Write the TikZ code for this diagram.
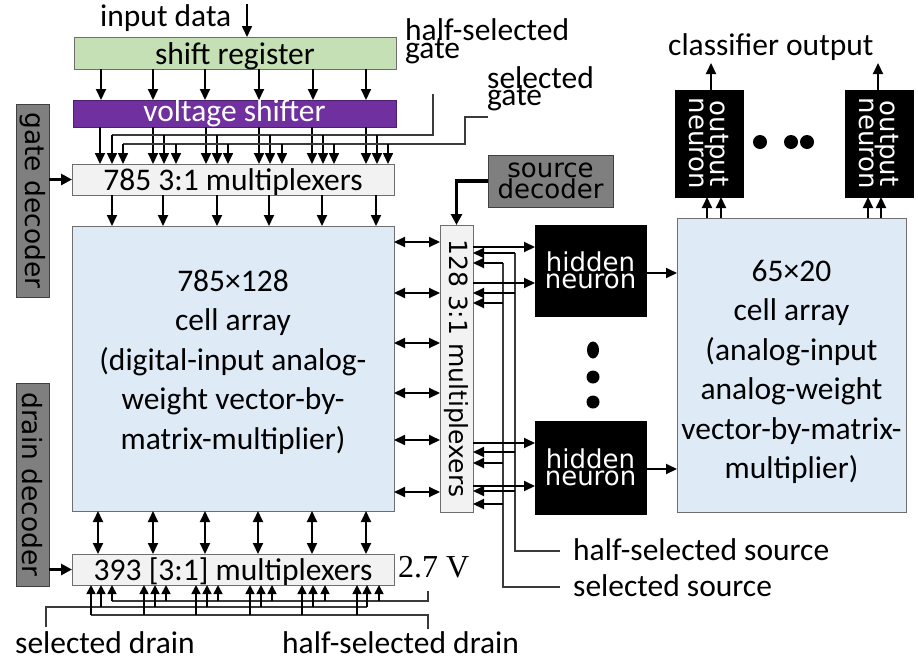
\documentclass[tikz,border=0pt]{standalone}
\usepackage{fontspec}
\setmainfont{Carlito}
\newfontfamily\dvsans{DejaVu Sans}
\newfontfamily\serifv{Liberation Serif}
\usetikzlibrary{arrows.meta}

\definecolor{regGreen}{HTML}{C5E0B4}
\definecolor{shiftPurple}{HTML}{7030A0}
\definecolor{purpleEdge}{HTML}{4B2070}
\definecolor{muxGray}{HTML}{F2F2F2}
\definecolor{cellBlue}{HTML}{DEEBF7}
\definecolor{decGray}{HTML}{7F7F7F}
\definecolor{edgeGray}{HTML}{6E6E6E}
\definecolor{wireGray}{HTML}{3A3A3A}

\newcommand\mainsz{\fontsize{31.5}{39.5}\selectfont}
\newcommand\tightdv{\dvsans\fontsize{26}{17.5}\selectfont}

\tikzset{
  blk/.style={draw=edgeGray, line width=1pt, inner sep=0pt, outer sep=0pt},
  boxtext/.style={font=\mainsz, text height=25pt, text depth=3pt},
  tip/.style={-{Triangle[length=11pt,width=10pt]}, line width=2pt},
  smalltip/.style={-{Triangle[length=9pt,width=9pt]}, line width=1.6pt},
  tiptwo/.style={{Triangle[length=11pt,width=10pt]}-{Triangle[length=11pt,width=10pt]}, line width=2pt},
  fat/.style={-{Triangle[length=11pt,width=11pt]}, line width=3.5pt},
  wire/.style={draw=wireGray, line width=1.2pt},
  lbl/.style={inner sep=0pt, font=\mainsz},
  neuron/.style={draw=black, fill=black, inner sep=0pt, outer sep=0pt},
  dec/.style={draw=black!75, fill=decGray, line width=1pt, inner sep=0pt, outer sep=0pt},
}

\begin{document}
\begin{tikzpicture}[x=1pt,y=-1pt]
\useasboundingbox (0,0) rectangle (918,662);

% ---------- input stage ----------
\node[blk, fill=regGreen, minimum width=322pt, minimum height=32pt, boxtext] (sr) at (235,53) {shift register};
\node[blk, draw=purpleEdge, fill=shiftPurple, text=white, minimum width=323pt, minimum height=27pt,
      font=\mainsz, text height=21pt, text depth=5pt] (vs) at (234.5,113.5) {voltage shifter};
\node[blk, fill=muxGray, minimum width=322pt, minimum height=31pt, boxtext] (gm) at (233,179.5) {785 3:1 multiplexers};

% ---------- main cell array ----------
\node[blk, fill=cellBlue, minimum width=322pt, minimum height=285pt] (ca) at (233,368.5) {};
\node[lbl, align=center] (caText) at (233,362)
  {785×128\\cell array\\(digital-input analog-\\weight vector-by-\\matrix-multiplier)};
\node[blk, fill=muxGray, minimum width=322pt, minimum height=31pt, boxtext] (dm) at (233,569.5) {393 [3:1] multiplexers};

% ---------- decoders ----------
\node[dec, minimum width=33pt, minimum height=193pt] (gd) at (32.5,200.5) {};
\node[rotate=-90, font=\dvsans\fontsize{26.5}{26.5}\selectfont, inner sep=0pt] (gdText) at (gd.center) {gate decoder};
\node[dec, minimum width=33pt, minimum height=203pt] (dd) at (32.5,484.5) {};
\node[rotate=-90, font=\dvsans\fontsize{26.5}{26.5}\selectfont, inner sep=0pt] (ddText) at (dd.center) {drain decoder};
\node[dec, minimum width=125pt, minimum height=52pt, font=\tightdv, align=center] (sd) at (550.5,181) {source\\decoder};

% ---------- source multiplexers ----------
\node[blk, fill=muxGray, minimum width=33pt, minimum height=287pt] (sm) at (456.5,368.5) {};
\node[rotate=-90, font=\dvsans\fontsize{25}{25}\selectfont, inner sep=0pt] (smText) at (sm.center) {128 3:1 multiplexers};

% ---------- neurons ----------
\node[neuron, minimum width=111pt, minimum height=91pt, text=white, font=\tightdv, align=center] (hn1) at (590.5,270.5) {hidden\\neuron};
\node[neuron, minimum width=111pt, minimum height=93pt, text=white, font=\tightdv, align=center] (hn2) at (590.5,467.5) {hidden\\neuron};

\node[blk, fill=cellBlue, minimum width=229pt, minimum height=294pt] (ra) at (791.5,365) {};
\node[lbl, align=center] (raText) at (791.5,372)
  {65×20\\cell array\\(analog-input\\analog-weight\\vector-by-matrix-\\multiplier)};

\node[neuron, minimum width=68pt, minimum height=107pt] (on1) at (709,143.5) {};
\node[rotate=-90, text=white, font=\tightdv, align=center, inner sep=0pt] (on1Text) at (on1.center) {output\\neuron};
\node[neuron, minimum width=68pt, minimum height=107pt] (on2) at (879,143.5) {};
\node[rotate=-90, text=white, font=\tightdv, align=center, inner sep=0pt] (on2Text) at (on2.center) {output\\neuron};

% ---------- dots ----------
\fill (593,350) ellipse [x radius=6pt, y radius=8.5pt];
\fill (593,377) circle [radius=6.5pt];
\fill (593,402) circle [radius=6.5pt];
\fill (760,142) circle [radius=7pt];
\fill (791,142) circle [radius=7pt];
\fill (807,142) circle [radius=7pt];

% ---------- labels ----------
\node[lbl, anchor=base west] (tIn) at (100,26) {input data};
\node[lbl, anchor=base west] (tHg1) at (405,40) {half-selected};
\node[lbl, anchor=base west] (tHg2) at (405,58) {gate};
\node[lbl, anchor=base west] (tSg1) at (487,88) {selected};
\node[lbl, anchor=base west] (tSg2) at (487,105) {gate};
\node[lbl, anchor=base west] (tCo) at (668,55) {classifier output};
\node[lbl, anchor=base west] (tHss) at (573,560) {half-selected source};
\node[lbl, anchor=base west] (tSs) at (573,596) {selected source};
\node[lbl, anchor=base west] (tSd) at (15,653) {selected drain};
\node[lbl, anchor=base west] (tHsd) at (282,653) {half-selected drain};
\node[anchor=base west, inner sep=0pt, font=\serifv\fontsize{32}{32}\selectfont] (tV) at (398,577) {2.7 V};

% ---------- gate side connectors ----------
\coordinate (inTop) at (247,4);
\draw[tip, line width=1.6pt] (inTop) -- (sr.north -| inTop);
\foreach \x in {101,153,205,259,313,366}
  \draw[tip] (sr.south -| \x,0) -- (vs.north -| \x,0);
\foreach \x in {100,153,206,259,312,366}
  \draw[tip] (vs.south -| \x,0) -- (gm.north -| \x,0);

% half-selected gate bus
\coordinate (hgTop) at (433,94);
\draw[wire] (hgTop) |- (112,135);
\foreach \x in {112,164,217,270,323,377}
  \draw[tip, line width=1.6pt] (\x,135) -- (gm.north -| \x,0);
% selected gate bus
\coordinate (sgEnd) at (488,117);
\draw[wire] (sgEnd) -- (465,117) |- (123,144);
\foreach \x in {123,176,228,282,334,388}
  \draw[tip, line width=1.6pt] (\x,144) -- (gm.north -| \x,0);

\foreach \x in {112,163,217,269,322,376}
  \draw[tip] (gm.south -| \x,0) -- (ca.north -| \x,0);
\draw[fat] (gd.east |- gm.west) -- (gm.west);

% ---------- drain side connectors ----------
\foreach \x in {98,153,205,258,312,366}
  \draw[tiptwo] (ca.south -| \x,0) -- (dm.north -| \x,0);
\draw[fat] (dd.east |- dm.west) -- (dm.west);

\coordinate (vTop) at (428,591);
\draw[wire] (vTop) |- (112,601);
\foreach \x in {112,166,218,272,325,379}
  \draw[smalltip] (\x,601) -- (dm.south -| \x,0);
\coordinate (sdrEnd) at (46,627);
\draw[wire] (sdrEnd) |- (367,607);
\foreach \x in {101,155,207,261,313,367}
  \draw[smalltip] (\x,607) -- (dm.south -| \x,0);
\coordinate (hdrEnd) at (428,629);
\draw[wire] (hdrEnd) |- (91,615);
\foreach \x in {91,144,196,250,302,357}
  \draw[smalltip] (\x,615) -- (dm.south -| \x,0);

% ---------- source side connectors ----------
\foreach \y in {242,293,343,393,440,492}
  \draw[tiptwo] (ca.east |- 0,\y) -- (sm.west |- 0,\y);
\draw[fat] (sd.west) -| (sm.north);

\coordinate (hsTop) at (515,253);
\coordinate (hsEnd) at (560,551);
\coordinate (ssTop) at (503,263);
\coordinate (ssEnd) at (560,587);
\draw[wire] (hsTop) |- (hsEnd);
\draw[wire] (ssTop) |- (ssEnd);

\foreach \y in {247,283}
  \draw[tip] (sm.east |- 0,\y) -- (hn1.west |- 0,\y);
\foreach \y in {443,486}
  \draw[tip] (sm.east |- 0,\y) -- (hn2.west |- 0,\y);
\foreach \y in {253,293,452,491}
  \draw[tip] (hsTop |- 0,\y) -- (sm.east |- 0,\y);
\foreach \y in {263,303,463,504}
  \draw[tip] (ssTop |- 0,\y) -- (sm.east |- 0,\y);

% ---------- hidden to output layer ----------
\draw[tip] (hn1.east |- 0,273) -- (ra.west |- 0,273);
\draw[tip] (hn2.east |- 0,469) -- (ra.west |- 0,469);
\foreach \x in {707,721}
  \draw[tip] (ra.north -| \x,0) -- (on1.south -| \x,0);
\foreach \x in {868,881}
  \draw[tip] (ra.north -| \x,0) -- (on2.south -| \x,0);
\coordinate (co1) at (711,63);
\coordinate (co2) at (878,63);
\draw[tip] (on1.north -| co1) -- (co1);
\draw[tip] (on2.north -| co2) -- (co2);
\end{tikzpicture}
\end{document}
